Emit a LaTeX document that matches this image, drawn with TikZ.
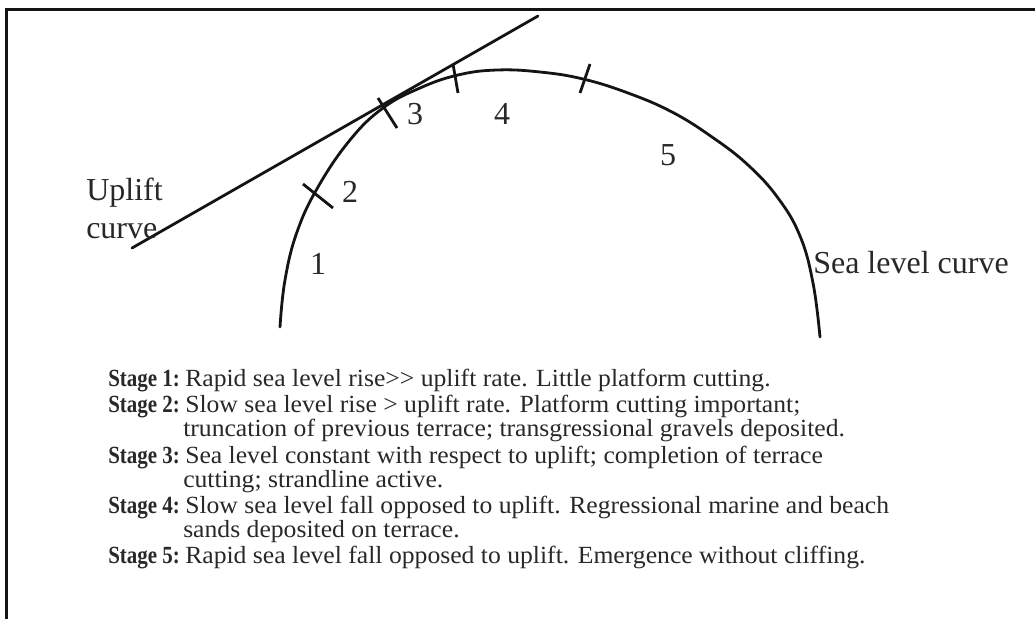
\documentclass[tikz,border=0pt]{standalone}
\usepackage{fontspec}
\setmainfont{Liberation Serif}
\newfontfamily\stgreg{Liberation Serif}[FakeStretch=1.04]
\newfontfamily\stgbold{Liberation Serif}[FakeStretch=0.85]
\definecolor{txt}{RGB}{40,40,40}
\definecolor{ink}{RGB}{20,20,20}
\begin{document}
\begin{tikzpicture}[x=0.75pt,y=-0.75pt,
  curveline/.style={line width=2.1pt, draw=ink, line cap=round},
  tickline/.style={line width=2.1pt, draw=ink},
  framebox/.style={line width=2pt, draw=ink},
  lbl/.style={font=\fontsize{24}{36}\selectfont, text=txt, inner sep=0pt},
  stghead/.style={font=\fontsize{18.5}{22}\stgbold\bfseries, text=txt, inner sep=0pt, anchor=base west},
  stgtext/.style={font=\fontsize{18.5}{22}\stgreg, text=txt, inner sep=0pt, anchor=base west}]
\useasboundingbox (0,0) rectangle (1035,619);
% frame (top and left edges)
\coordinate (fl) at (6.5,619);
\coordinate (ftl) at (6.5,9.5);
\coordinate (ftr) at (1035,9.5);
\draw[framebox] (fl) -- (ftl) -- (ftr);
% sea level curve
\draw[curveline] plot[smooth, tension=0.7] coordinates {(280,327) (285,280) (297,232) (318,187) (350,140) (383,108) (420,88) (458,75) (497,70) (540,72) (583,79) (628,93) (672,112) (712,137) (748,165) (778,198) (800,236) (813,283) (820,337)};
% uplift curve
\coordinate (ua) at (132,248);
\coordinate (ub) at (538,16);
\draw[curveline] (ua) -- (ub);
% ticks
\coordinate (t2a) at (303,184); \coordinate (t2b) at (333,208);
\coordinate (t3a) at (378,98);  \coordinate (t3b) at (397,128);
\coordinate (t4a) at (453,64);  \coordinate (t4b) at (458,93);
\coordinate (t5a) at (590,64);  \coordinate (t5b) at (580,93);
\draw[tickline] (t2a) -- (t2b);
\draw[tickline] (t3a) -- (t3b);
\draw[tickline] (t4a) -- (t4b);
\draw[tickline] (t5a) -- (t5b);
% stage numbers
\node[lbl, anchor=base] (n1) at (318,274) {1};
\node[lbl, anchor=base] (n2) at (350,202) {2};
\node[lbl, anchor=base] (n3) at (415,124) {3};
\node[lbl, anchor=base] (n4) at (502,124) {4};
\node[lbl, anchor=base] (n5) at (668,165) {5};
% curve labels
\node[lbl, anchor=base west] (up1) at (86,200) {Uplift};
\node[lbl, anchor=base west] (up2) at (86,238) {curve};
\node[lbl, anchor=base west] (sl) at (813,273) {Sea level curve};
% stage descriptions
\node[stghead] (h1) at (108,386) {Stage 1:};
\node[stgtext] (d1) at (185,386) {Rapid sea level rise>{}> uplift rate. Little platform cutting.};
\node[stghead] (h2) at (108,412) {Stage 2:};
\node[stgtext] (d2) at (185,412) {Slow sea level rise > uplift rate. Platform cutting important;};
\node[stgtext] (d2b) at (183,436) {truncation of previous terrace; transgressional gravels deposited.};
\node[stghead] (h3) at (108,463) {Stage 3:};
\node[stgtext] (d3) at (185,463) {Sea level constant with respect to uplift; completion of terrace};
\node[stgtext] (d3b) at (183,487) {cutting; strandline active.};
\node[stghead] (h4) at (108,513) {Stage 4:};
\node[stgtext] (d4) at (185,513) {Slow sea level fall opposed to uplift. Regressional marine and beach};
\node[stgtext] (d4b) at (183,537) {sands deposited on terrace.};
\node[stghead] (h5) at (108,563) {Stage 5:};
\node[stgtext] (d5) at (185,563) {Rapid sea level fall opposed to uplift. Emergence without cliffing.};
\end{tikzpicture}
\end{document}
